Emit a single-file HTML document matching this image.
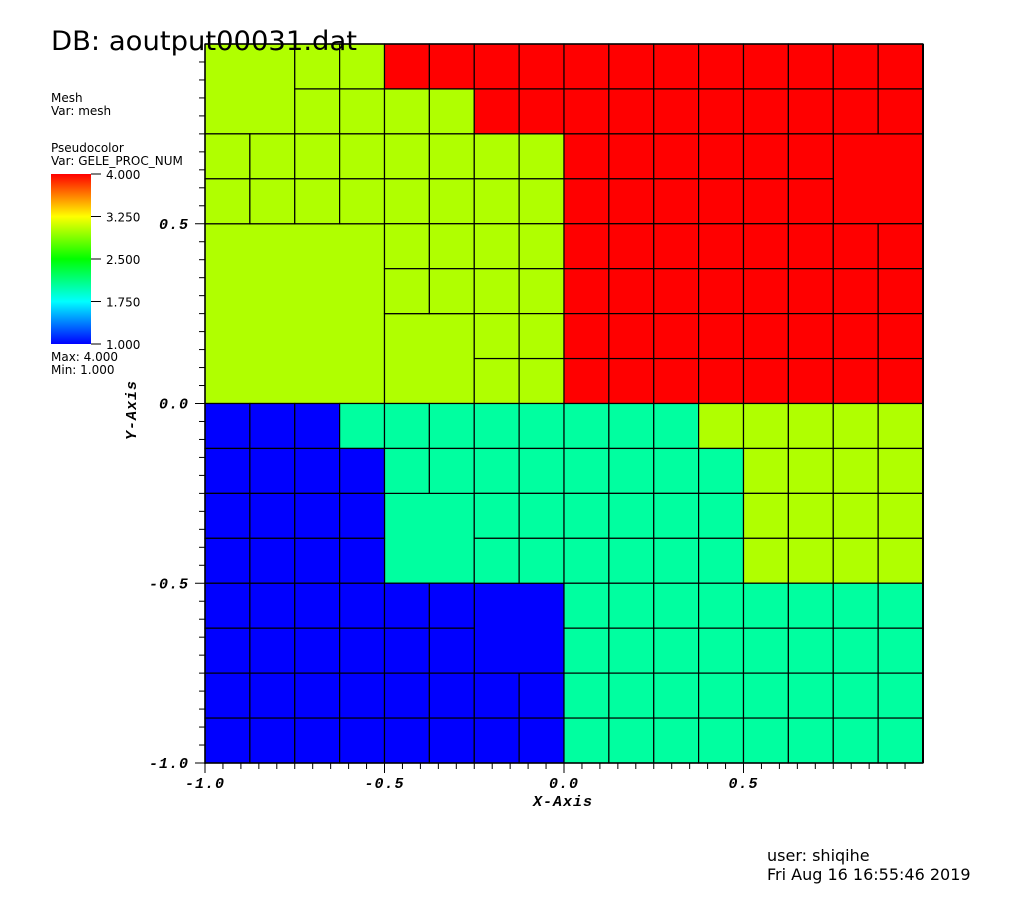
<!DOCTYPE html>
<html><head><meta charset="utf-8"><style>
html,body{margin:0;padding:0;background:#fff;width:1024px;height:899px;overflow:hidden}
svg{display:block}
.lg{font-family:"DejaVu Sans","Liberation Sans",sans-serif;font-size:12px;fill:#000}
.tk{font-family:"Liberation Mono",monospace;font-weight:bold;font-style:italic;font-size:15px;fill:#000;letter-spacing:1px}
</style></head><body>
<svg id="chart" width="1024" height="899">
<text class="lg" x="51" y="102">Mesh</text>
<text class="lg" x="51" y="115">Var: mesh</text>
<text class="lg" x="51" y="152">Pseudocolor</text>
<text class="lg" x="51" y="165">Var: GELE_PROC_NUM</text>
<defs><linearGradient id="cb" x1="0" y1="1" x2="0" y2="0">
<stop offset="0" stop-color="#0000ff"/><stop offset="0.25" stop-color="#00ffff"/><stop offset="0.5" stop-color="#00ff00"/><stop offset="0.75" stop-color="#ffff00"/><stop offset="1" stop-color="#ff0000"/></linearGradient></defs>
<rect x="51" y="174" width="40" height="170" fill="url(#cb)"/>
<g id="cbticks"></g>
<text class="lg" x="51" y="361">Max:  4.000</text>
<text class="lg" x="51" y="374">Min:  1.000</text>
<g id="cells"></g>
<g id="axes"></g>
<text x="51" y="50" font-family="DejaVu Sans,Liberation Sans,sans-serif" font-size="27" textLength="306" lengthAdjust="spacingAndGlyphs">DB: aoutput00031.dat</text>
<text class="tk" x="533" y="806" font-size="14">X-Axis</text>
<text class="tk" transform="translate(136,440) rotate(-90)" font-size="14">Y-Axis</text>
<text class="lg" x="767" y="861" style="font-size:16px">user: shiqihe</text>
<text class="lg" x="767" y="880" style="font-size:16px">Fri Aug 16 16:55:46 2019</text>
</svg>
<script>
const gridValues = [
"3333444444444444",
"3333334444444444",
"3333333344444444",
"3333333344444444",
"3333333344444444",
"3333333344444444",
"3333333344444444",
"3333333344444444",
"1112222222233333",
"1111222222223333",
"1111222222223333",
"1111222222223333",
"1111111122222222",
"1111111122222222",
"1111111122222222",
"1111111122222222"];
const mergedCols = [0,14,0,4,4,6];
const mergedRows = [0,2,4,6,10,12];
const mergedSizes = [2,2,4,2,2,2];
const xTickLabels = ["-1.0","-0.5","0.0","0.5"];
const xTickValues = [-1,-0.5,0,0.5];
const yTickLabels = ["0.5","0.0","-0.5","-1.0"];
const yTickValues = [0.5,0,-0.5,-1];
const cbLabels = ["4.000","3.250","2.500","1.750","1.000"];
const cbValues = [4,3.25,2.5,1.75,1];

const X0=205,X1=923,Y0=44,Y1=763;
const sx=v=>X0+(v+1)/2*(X1-X0);
const sy=v=>Y1-(v+1)/2*(Y1-Y0);
const cx=c=>X0+c*(X1-X0)/16;
const cy=r=>Y0+r*(Y1-Y0)/16;
const color=v=>({1:"#0000ff",2:"#00ffa0",3:"#b0ff00",4:"#ff0000"})[v];
const NS="http://www.w3.org/2000/svg";
const cells=document.getElementById('cells');
const covered={};
function addRect(c,r,s){
  const v=+gridValues[r][c];
  const el=document.createElementNS(NS,'rect');
  el.setAttribute('x',cx(c));el.setAttribute('y',cy(r));
  el.setAttribute('width',cx(c+s)-cx(c));el.setAttribute('height',cy(r+s)-cy(r));
  el.setAttribute('fill',color(v));el.setAttribute('stroke','#000');el.setAttribute('stroke-width','1.2');
  
  
  cells.appendChild(el);
}
mergedCols.forEach((c,i)=>{const r=mergedRows[i],s=mergedSizes[i];
  for(let a=0;a<s;a++)for(let b=0;b<s;b++)covered[(r+a)+','+(c+b)]=1;
  addRect(c,r,s);});
for(let r=0;r<16;r++)for(let c=0;c<16;c++)if(!covered[r+','+c])addRect(c,r,1);

const axes=document.getElementById('axes');
function line(x1,y1,x2,y2,w){const l=document.createElementNS(NS,'line');
  l.setAttribute('x1',x1);l.setAttribute('y1',y1);l.setAttribute('x2',x2);l.setAttribute('y2',y2);
  l.setAttribute('stroke','#000');l.setAttribute('stroke-width',w||1);axes.appendChild(l);return l;}
function text(x,y,s,anchor,cls,parent){const t=document.createElementNS(NS,'text');
  t.setAttribute('x',x);t.setAttribute('y',y);t.setAttribute('class',cls);t.setAttribute('text-anchor',anchor);
  t.textContent=s;(parent||axes).appendChild(t);return t;}
line(X0,Y0,X0,Y1+1,1.5);line(X0,Y1,X1,Y1,1.5);line(X1,Y0,X1,Y1,2);line(X0,Y0,X1,Y0,1.5);
for(let i=0;i<40;i++){const v=-1+i*0.05;const major=Math.abs(v*2-Math.round(v*2))<1e-6;
  line(sx(v),Y1,sx(v),Y1+(major?10:6));line(X0,sy(v),X0-(major?10:6),sy(v));}
xTickLabels.forEach((s,i)=>{const t=text(sx(xTickValues[i]),788,s,'middle','tk');
  
  });
yTickLabels.forEach((s,i)=>{const t=text(189,sy(yTickValues[i])+5,s,'end','tk');
  
  });
const cbt=document.getElementById('cbticks');
cbValues.forEach((v,i)=>{const y=344-(v-1)/3*170;
  const l=document.createElementNS(NS,'line');l.setAttribute('x1',91);l.setAttribute('x2',101);
  l.setAttribute('y1',y);l.setAttribute('y2',y);l.setAttribute('stroke','#000');cbt.appendChild(l);
  const t=text(106,y+5,cbLabels[i],'start','lg',cbt);
  
  });
</script>
</body></html>
